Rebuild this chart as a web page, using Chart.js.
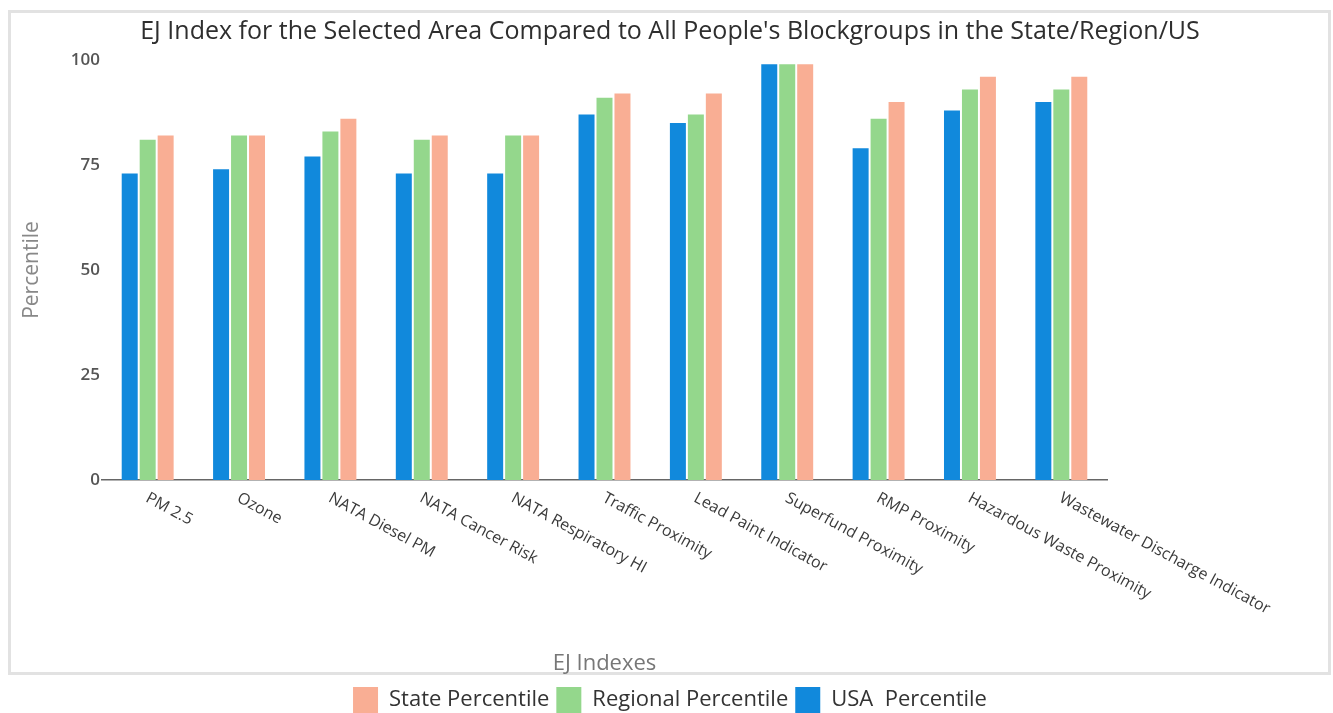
<!DOCTYPE html>
<html><head><meta charset="utf-8">
<script src="https://cdn.jsdelivr.net/npm/chart.js@4"></script>
<style>
html,body{margin:0;padding:0;background:#fff;}
#wrap{width:1333px;height:713px;position:relative;}
</style>
</head><body>
<div id="wrap"><canvas id="c"></canvas></div>
<script>
const categories = ["PM 2.5","Ozone","NATA Diesel PM","NATA Cancer Risk","NATA Respiratory HI","Traffic Proximity","Lead Paint Indicator","Superfund Proximity","RMP Proximity","Hazardous Waste Proximity","Wastewater Discharge Indicator"];
const usaPercentile      = [73, 74, 77, 73, 73, 87, 85, 99, 79, 88, 90];
const regionalPercentile = [81, 82, 83, 81, 82, 91, 87, 99, 86, 93, 93];
const statePercentile    = [82, 82, 86, 82, 82, 92, 92, 99, 90, 96, 96];
const yTicks = [0, 25, 50, 75, 100];

const framePlugin = {
  id: 'frame',
  beforeDraw(chart) {
    const ctx = chart.ctx;
    ctx.save();
    ctx.strokeStyle = '#e2e2e2';
    ctx.lineWidth = 3;
    ctx.strokeRect(9.5, 11.5, 1320, 662);
    ctx.restore();
  }
};

const xLabelPlugin = {
  id: 'xLabels',
  afterDraw(chart) {
    const ctx = chart.ctx;
    const x = chart.scales.x;
    ctx.save();
    ctx.font = '16px "Open Sans"';
    ctx.fillStyle = '#3a3a3a';
    ctx.textAlign = 'left';
    ctx.textBaseline = 'top';
    categories.forEach((lab, i) => {
      const px = x.getPixelForTick(i);
      ctx.save();
      ctx.translate(px + 3, x.top + 10);
      ctx.rotate(28.5 * Math.PI / 180);
      ctx.fillText(lab, 0, 0);
      ctx.restore();
    });
    ctx.restore();
  }
};

new Chart(document.getElementById('c'), {
  type: 'bar',
  data: {
    labels: categories,
    datasets: [
      { label: 'USA  Percentile', data: usaPercentile, backgroundColor: '#1189DC' },
      { label: 'Regional Percentile', data: regionalPercentile, backgroundColor: '#94D78C' },
      { label: 'State Percentile', data: statePercentile, backgroundColor: '#F9AE94' }
    ]
  },
  options: {
    responsive: true,
    maintainAspectRatio: false,
    animation: false,
    layout: { padding: { left: 10, right: 3, top: 0, bottom: -10 } },
    datasets: { bar: { categoryPercentage: 0.59, barPercentage: 0.89 } },
    plugins: {
      tooltip: { enabled: false },
      title: {
        display: true,
        text: "EJ Index for the Selected Area Compared to All People's Blockgroups in the State/Region/US",
        color: '#2e2e2e',
        font: { family: '"Open Sans"', size: 25, weight: 'normal' },
        padding: { top: 17, bottom: 13 }
      },
      legend: {
        position: 'bottom',
        reverse: true,
        labels: {
          boxWidth: 25, boxHeight: 26, padding: 7,
          color: '#333',
          font: { family: '"Open Sans"', size: 22 }
        }
      }
    },
    scales: {
      x: {
        grid: { display: false, drawTicks: false },
        border: { display: true, color: '#666', width: 1.5 },
        ticks: { display: false },
        title: { display: true, text: 'EJ Indexes', color: '#777', font: { family: '"Open Sans"', size: 22 }, padding: { top: 0, bottom: 3 } },
        afterFit: s => { s.height = 200; }
      },
      y: {
        min: 0, max: 100,
        grid: { display: false, drawTicks: false },
        border: { display: false },
        afterBuildTicks: s => { s.ticks = yTicks.map(v => ({ value: v })); },
        ticks: { padding: 2, color: '#555', font: { family: '"Open Sans"', size: 17, weight: '600' } },
        title: { display: true, text: 'Percentile', color: '#888', font: { family: '"Open Sans"', size: 21 }, padding: { top: 9, bottom: 0 } },
        afterFit: s => { s.width = 92; }
      },
      y2: {
        position: 'right',
        display: true,
        grid: { display: false, drawTicks: false },
        border: { display: false },
        ticks: { display: false },
        afterFit: s => { s.width = 223; }
      }
    }
  },
  plugins: [framePlugin, xLabelPlugin]
});
</script>
</body></html>
